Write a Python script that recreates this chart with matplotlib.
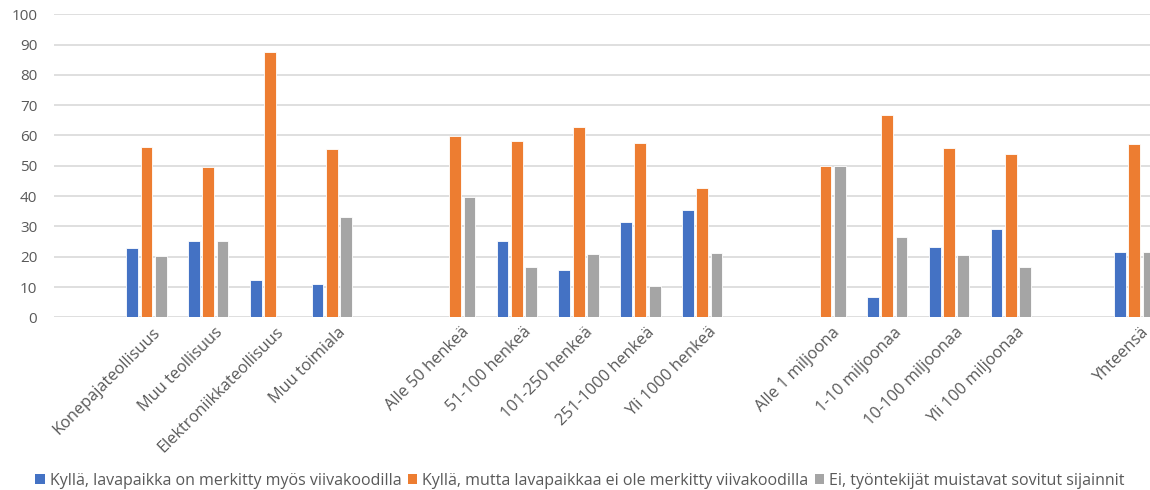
import numpy as np
import matplotlib
matplotlib.use('Agg')
from matplotlib import pyplot as plt
from matplotlib.patches import Patch
import matplotlib.transforms as mtransforms

# categories, empty strings are spacer slots between the groups
categories = ['', 'Konepajateollisuus', 'Muu teollisuus', 'Elektroniikkateollisuus', 'Muu toimiala',
              '', 'Alle 50 henkeä', '51-100 henkeä', '101-250 henkeä', '251-1000 henkeä', 'Yli 1000 henkeä',
              '', 'Alle 1 miljoona', '1-10 miljoonaa', '10-100 miljoonaa', 'Yli 100 miljoonaa',
              '', 'Yhteensä']

kylla_viivakoodi = [0, 22.8, 25.1, 12.4, 10.9,
                    0, 0, 25.1, 15.7, 31.3, 35.5,
                    0, 0, 6.7, 23.3, 29.0,
                    0, 21.5]
kylla_ei_viivakoodia = [0, 56.3, 49.7, 87.5, 55.4,
                        0, 59.7, 58.2, 62.9, 57.6, 42.6,
                        0, 50.0, 66.7, 55.8, 54.0,
                        0, 57.3]
ei_muistavat = [0, 20.3, 25.1, 0, 33.2,
                0, 39.8, 16.6, 20.8, 10.4, 21.3,
                0, 50.0, 26.6, 20.4, 16.7,
                0, 21.5]

labels = ['Kyllä, lavapaikka on merkitty myös viivakoodilla',
          'Kyllä, mutta lavapaikkaa ei ole merkitty viivakoodilla',
          'Ei, työntekijät muistavat sovitut sijainnit']
colors = ['#4472C4', '#ED7D31', '#A5A5A5']

plt.rcParams['font.family'] = ['Open Sans', 'DejaVu Sans']

fig = plt.figure(figsize=(11.5, 4.9), dpi=100)
ax = fig.add_axes([54/1150., 172.7/490., 1111/1150., 303/490.])

x = np.arange(len(categories))
w = 0.19
off = 0.232
for i, vals in enumerate([kylla_viivakoodi, kylla_ei_viivakoodia, ei_muistavat]):
    v = np.array(vals, dtype=float)
    m = v > 0
    ax.bar(x[m] + (i - 1)*off, v[m], width=w, color=colors[i], edgecolor='white', linewidth=0.6, zorder=3)

ax.set_xlim(-0.5, len(categories) - 0.5)
ax.set_ylim(0, 100)
ax.set_yticks(np.arange(0, 101, 10))
ax.yaxis.grid(True, color='#D9D9D9', linewidth=1.2, zorder=0)
for s in ['top', 'right', 'left', 'bottom']:
    ax.spines[s].set_visible(False)
ax.tick_params(axis='both', length=0, colors='#595959')
ax.tick_params(axis='y', pad=12, labelsize=11)

ax.set_xticks(x)
ax.set_xticklabels(categories, rotation=45, ha='right', rotation_mode='anchor', fontsize=11.8)
ax.tick_params(axis='x', pad=5)
shift = mtransforms.ScaledTranslation(6/100., 0, fig.dpi_scale_trans)
for lab in ax.get_xticklabels():
    lab.set_transform(lab.get_transform() + shift)

handles = [Patch(facecolor=c, edgecolor='none') for c in colors]
leg = fig.legend(handles, labels, loc='center', bbox_to_anchor=(580/1150., 1 - 481/490.), ncol=3,
                 frameon=False, fontsize=11.5, handlelength=0.6, handleheight=0.6, handletextpad=0.3,
                 columnspacing=0.4, labelcolor='#595959')

fig.savefig('out.png', dpi=100)
